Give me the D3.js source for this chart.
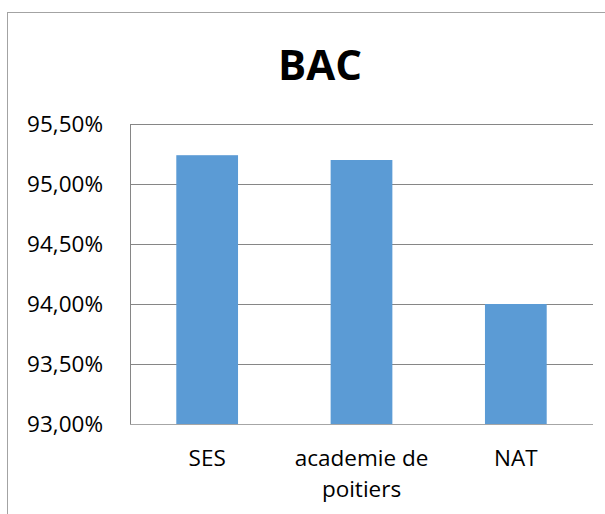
<!DOCTYPE html>
<html>
<head>
<meta charset="utf-8">
<script src="https://cdn.jsdelivr.net/npm/d3@7"></script>
<style>
  html, body { margin: 0; padding: 0; background: #fff; }
  svg { display: block; }
  text { font-family: "Open Sans", sans-serif; fill: #000; }
</style>
</head>
<body>
<svg id="chart" width="605" height="514"></svg>
<script>
const title = "BAC";
const categories = [["SES"], ["academie de", "poitiers"], ["NAT"]];
const values = [95.24, 95.20, 94.00];
const yTicks = [93.0, 93.5, 94.0, 94.5, 95.0, 95.5];
const yDomain = [93.0, 95.5];

const svg = d3.select("#chart");
const plot = { left: 130, right: 593, top: 124, bottom: 424 };

// chart frame (extends beyond the window on right and bottom)
svg.append("rect")
  .attr("x", 7.5).attr("y", 12.5)
  .attr("width", 640).attr("height", 540)
  .attr("fill", "#fff").attr("stroke", "#a3a3a3").attr("stroke-width", 1);

const x = d3.scaleBand()
  .domain(categories.map((d, i) => i))
  .range([plot.left, plot.right])
  .paddingInner(0.6).paddingOuter(0.3);

const y = d3.scaleLinear().domain(yDomain).range([plot.bottom, plot.top]);

const locale = d3.formatLocale({ decimal: ",", thousands: " ", grouping: [3], currency: ["", "€"] });
const fmt = v => locale.format(".2f")(v) + "%";

// gridlines
svg.append("g").selectAll("line")
  .data(yTicks.filter(t => t !== yDomain[0]))
  .join("line")
  .attr("x1", plot.left).attr("x2", plot.right)
  .attr("y1", d => Math.round(y(d)) + 0.5).attr("y2", d => Math.round(y(d)) + 0.5)
  .attr("stroke", "#868686").attr("stroke-width", 1);

// bars
svg.append("g").selectAll("rect")
  .data(values)
  .join("rect")
  .attr("x", (d, i) => x(i))
  .attr("width", x.bandwidth())
  .attr("y", d => y(d))
  .attr("height", d => y(yDomain[0]) - y(d))
  .attr("fill", "#5b9bd5");

// axes lines
svg.append("line")
  .attr("x1", plot.left + 0.5).attr("x2", plot.left + 0.5)
  .attr("y1", plot.top).attr("y2", plot.bottom + 0.5)
  .attr("stroke", "#868686");
svg.append("line")
  .attr("x1", plot.left).attr("x2", plot.right)
  .attr("y1", plot.bottom + 0.5).attr("y2", plot.bottom + 0.5)
  .attr("stroke", "#a6a6a6");

// y tick labels
svg.append("g").selectAll("text")
  .data(yTicks)
  .join("text")
  .attr("x", 103)
  .attr("y", d => y(d))
  .attr("dy", "0.35em")
  .attr("text-anchor", "end")
  .style("font-size", "22.5px")
  .text(d => fmt(d));

// category labels
const cat = svg.append("g").selectAll("text")
  .data(categories)
  .join("text")
  .attr("text-anchor", "middle")
  .style("font-size", "22.5px")
  .attr("transform", (d, i) => `translate(${x(i) + x.bandwidth() / 2},466)`);
cat.selectAll("tspan")
  .data(d => d)
  .join("tspan")
  .attr("x", 0)
  .attr("y", (d, j) => j * 31)
  .text(d => d);

// title
svg.append("text")
  .attr("x", 320).attr("y", 80)
  .attr("text-anchor", "middle")
  .style("font-size", "42px").style("font-weight", "bold")
  .text(title);
</script>
</body>
</html>
